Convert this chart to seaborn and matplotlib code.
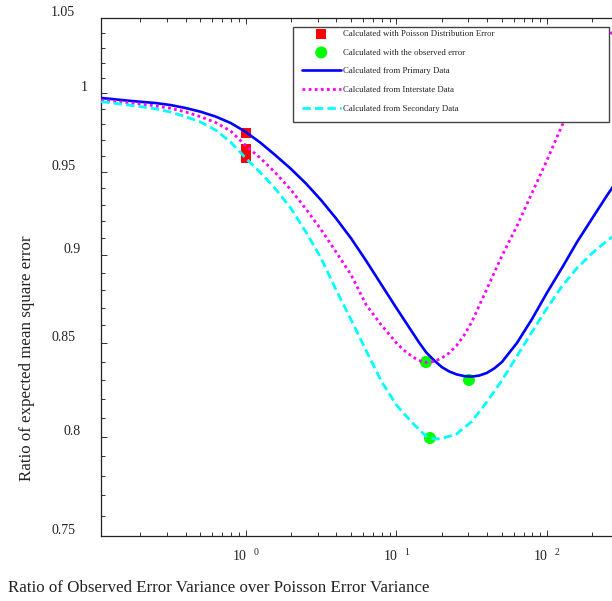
import matplotlib
matplotlib.use("Agg")
import matplotlib.pyplot as plt
import seaborn as sns
from matplotlib.patches import Rectangle
from matplotlib.transforms import ScaledTranslation
from matplotlib.ticker import FixedLocator, FixedFormatter, NullFormatter

# Error-variance ratio (observed / Poisson) at which each curve was evaluated
primary_grid = [0.11, 0.126, 0.158, 0.2, 0.251, 0.316, 0.398, 0.501, 0.631,
                0.794, 1, 1.26, 1.58, 2.0, 2.51, 3.16, 3.98, 5.01, 6.31, 7.94,
                10, 12.6, 14.1, 15.8, 17.8, 20, 22.4, 25.1, 28.2, 31.6, 35.5,
                39.8, 44.7, 50.1, 63.1, 79.4, 100, 126, 158, 200, 251, 316, 398]
primary = [0.9968, 0.9963, 0.9953, 0.9944, 0.9936, 0.9923, 0.9904, 0.9880,
           0.9849, 0.9808, 0.9751, 0.9681, 0.9603, 0.9519, 0.9430, 0.9329,
           0.9218, 0.9099, 0.8967, 0.8831, 0.8697, 0.8568, 0.8506, 0.8449,
           0.8406, 0.8370, 0.8346, 0.8330, 0.8321, 0.8318, 0.8324, 0.8338,
           0.8363, 0.8397, 0.8502, 0.8635, 0.8785, 0.8929, 0.9078, 0.9221,
           0.9360, 0.9494, 0.9625]

interstate_grid = [0.11, 0.126, 0.158, 0.2, 0.251, 0.316, 0.398, 0.501, 0.631,
                   0.794, 1, 1.26, 1.58, 2.0, 2.51, 3.16, 3.98, 5.01, 6.31,
                   7.94, 10, 11.2, 12.6, 14.1, 15.8, 17.8, 20, 22.4, 25.1,
                   28.2, 31.6, 39.8, 50.1, 63.1, 79.4, 100, 126, 158, 200,
                   251, 316]
interstate = [0.9955, 0.9950, 0.9940, 0.9930, 0.9917, 0.9902, 0.9879, 0.9848,
              0.9811, 0.9757, 0.9665, 0.9584, 0.9494, 0.9390, 0.9275, 0.9152,
              0.9019, 0.8886, 0.8714, 0.8602, 0.8502, 0.8462, 0.8430, 0.8405,
              0.8395, 0.8400, 0.8419, 0.8447, 0.8488, 0.8546, 0.8618, 0.8805,
              0.8996, 0.9173, 0.9372, 0.9575, 0.9795, 0.9994, 1.0178, 1.0351,
              1.0521]

secondary_grid = [0.11, 0.126, 0.158, 0.2, 0.251, 0.316, 0.398, 0.501, 0.631,
                  0.794, 1, 1.26, 1.58, 2.0, 2.51, 3.16, 3.98, 5.01, 6.31,
                  7.94, 10, 12.6, 15.8, 17.8, 20, 25.1, 31.6, 39.8, 50.1,
                  63.1, 79.4, 100, 126, 158, 200, 251, 316, 398]
secondary = [0.9944, 0.9938, 0.9926, 0.9913, 0.9899, 0.9878, 0.9849, 0.9814,
             0.9763, 0.9687, 0.9587, 0.9494, 0.9396, 0.9278, 0.9137, 0.8984,
             0.8800, 0.8630, 0.8458, 0.8294, 0.8166, 0.8076, 0.8001, 0.7988,
             0.7990, 0.8014, 0.8079, 0.8182, 0.8297, 0.8430, 0.8563, 0.8697,
             0.8823, 0.8926, 0.9014, 0.9087, 0.9149, 0.9209]

poisson_x = [1.0, 1.0, 1.0]
poisson_y = [0.9744, 0.9643, 0.9587]

observed_x = [15.7, 30.3, 16.7]
observed_y = [0.8397, 0.8300, 0.7993]

y_ticks = [0.75, 0.8, 0.85, 0.9, 0.95, 1.0, 1.05]
y_tick_labels = ["0.75", "0.8", "0.85", "0.9", "0.95", "1", "1.05"]
y_minor = [v / 100 for v in range(76, 105) if v % 5 != 0]
x_ticks = [1, 10, 100]
x_tick_labels = [r"$\mathregular{10^{\quad 0}}$", r"$\mathregular{10^{\quad 1}}$",
                 r"$\mathregular{10^{\quad 2}}$"]
x_minor = [m * 10.0 ** e for e in (-1, 0, 1, 2) for m in range(2, 10)]

labels = ["Calculated with Poisson Distribution Error",
          "Calculated with the observed error",
          "Calculated from Primary Data",
          "Calculated from Interstate Data",
          "Calculated from Secondary Data"]

sns.set_theme(style="white")
plt.rcParams["font.family"] = ["Liberation Serif", "DejaVu Serif"]
plt.rcParams["mathtext.fontset"] = "custom"
plt.rcParams["mathtext.rm"] = "Liberation Serif"
plt.rcParams["mathtext.it"] = "Liberation Serif:italic"

W, H = 612, 601
fig = plt.figure(figsize=(W / 100, H / 100), dpi=100)
fig.patch.set_facecolor("white")
left_px, right_px, top_px, bottom_px = 101, 614, 18, 536
ax = fig.add_axes([left_px / W, 1 - bottom_px / H,
                   (right_px - left_px) / W, (bottom_px - top_px) / H])
ax.set_facecolor("white")
ax.set_xscale("log")
ax.set_yscale("log")

sns.scatterplot(x=poisson_x, y=poisson_y, marker="s", s=55, color="#ff0000",
                edgecolor="none", linewidth=0, label=labels[0], ax=ax, zorder=2)
sns.scatterplot(x=observed_x, y=observed_y, marker="o", s=75, color="#00ff00",
                edgecolor="none", linewidth=0, label=labels[1], ax=ax, zorder=2)
sns.lineplot(x=primary_grid, y=primary, color="#0000ff", linewidth=1.9,
             label=labels[2], ax=ax, zorder=3, estimator=None, sort=False)
sns.lineplot(x=interstate_grid, y=interstate, color="#ff00ff", linewidth=2.0,
             linestyle=(0, (1, 1.2)), dash_capstyle="butt",
             label=labels[3], ax=ax, zorder=3, estimator=None, sort=False)
sns.lineplot(x=secondary_grid, y=secondary, color="#00ffff", linewidth=2.0,
             linestyle=(0, (3, 1.5)), dash_capstyle="butt",
             label=labels[4], ax=ax, zorder=3, estimator=None, sort=False)

px_per_decade = 150.7
x_lo = 10 ** ((left_px - 245.7) / px_per_decade)
x_hi = 10 ** ((right_px - 245.7) / px_per_decade)
ax.set_xlim(x_lo, x_hi)
ax.set_ylim(0.75, 1.05)

ax.xaxis.set_major_locator(FixedLocator(x_ticks))
ax.xaxis.set_major_formatter(FixedFormatter(x_tick_labels))
ax.xaxis.set_minor_locator(FixedLocator(x_minor))
ax.xaxis.set_minor_formatter(NullFormatter())
ax.yaxis.set_major_locator(FixedLocator(y_ticks))
ax.yaxis.set_major_formatter(FixedFormatter(y_tick_labels))
ax.yaxis.set_minor_locator(FixedLocator(y_minor))
ax.yaxis.set_minor_formatter(NullFormatter())

ax.tick_params(which="both", direction="in", top=True, right=False,
               bottom=True, left=True, color="#333333", width=0.7,
               labelcolor="#222222", labelsize=10)
ax.tick_params(which="major", length=4.5)
ax.tick_params(which="minor", length=3)
ax.tick_params(axis="y", pad=18.5)
ax.tick_params(axis="x", pad=9)

for side in ("left", "bottom", "top"):
    ax.spines[side].set_color("#222222")
    ax.spines[side].set_linewidth(0.9)
ax.spines["right"].set_visible(False)

# y tick labels sit a little above their ticks, shorter ones nudged right
shift = {4: 0, 3: 5, 1: 12}
fig.canvas.draw()
for lab in ax.get_yticklabels():
    dx = shift.get(len(lab.get_text()), 0)
    lab.set_transform(lab.get_transform() +
                      ScaledTranslation(dx / 100, 7 / 100, fig.dpi_scale_trans))

ax.set_xlabel("Ratio of Observed Error Variance over Poisson Error Variance",
              fontsize=12.2, color="#222222", ha="left", va="center")
ax.xaxis.set_label_coords(8 / W, 1 - 588 / H, transform=fig.transFigure)
ax.set_ylabel("Ratio of expected mean square error", fontsize=12.2,
              color="#222222", va="center", ha="center")
ax.yaxis.set_label_coords(27 / W, 1 - 358 / H, transform=fig.transFigure)

# legend box
box = Rectangle((293 / W, 1 - 122 / H), (609 - 293) / W, (122 - 27) / H,
                transform=fig.transFigure, facecolor="white",
                edgecolor="#444444", linewidth=1.0, zorder=10, clip_on=False)
ax.add_patch(box)
handles, hlabels = ax.get_legend_handles_labels()
leg = ax.legend(handles, hlabels, loc="upper left",
                bbox_to_anchor=(302 / W, 1 - 30 / H),
                bbox_transform=fig.transFigure, frameon=False,
                fontsize=6.3, handlelength=4.4, handletextpad=0.25,
                labelspacing=1.2, borderpad=0, borderaxespad=0,
                scatterpoints=1)
leg.set_zorder(11)
for t in leg.get_texts():
    t.set_color("#222222")

fig.savefig("out.png", dpi=100, facecolor="white")
